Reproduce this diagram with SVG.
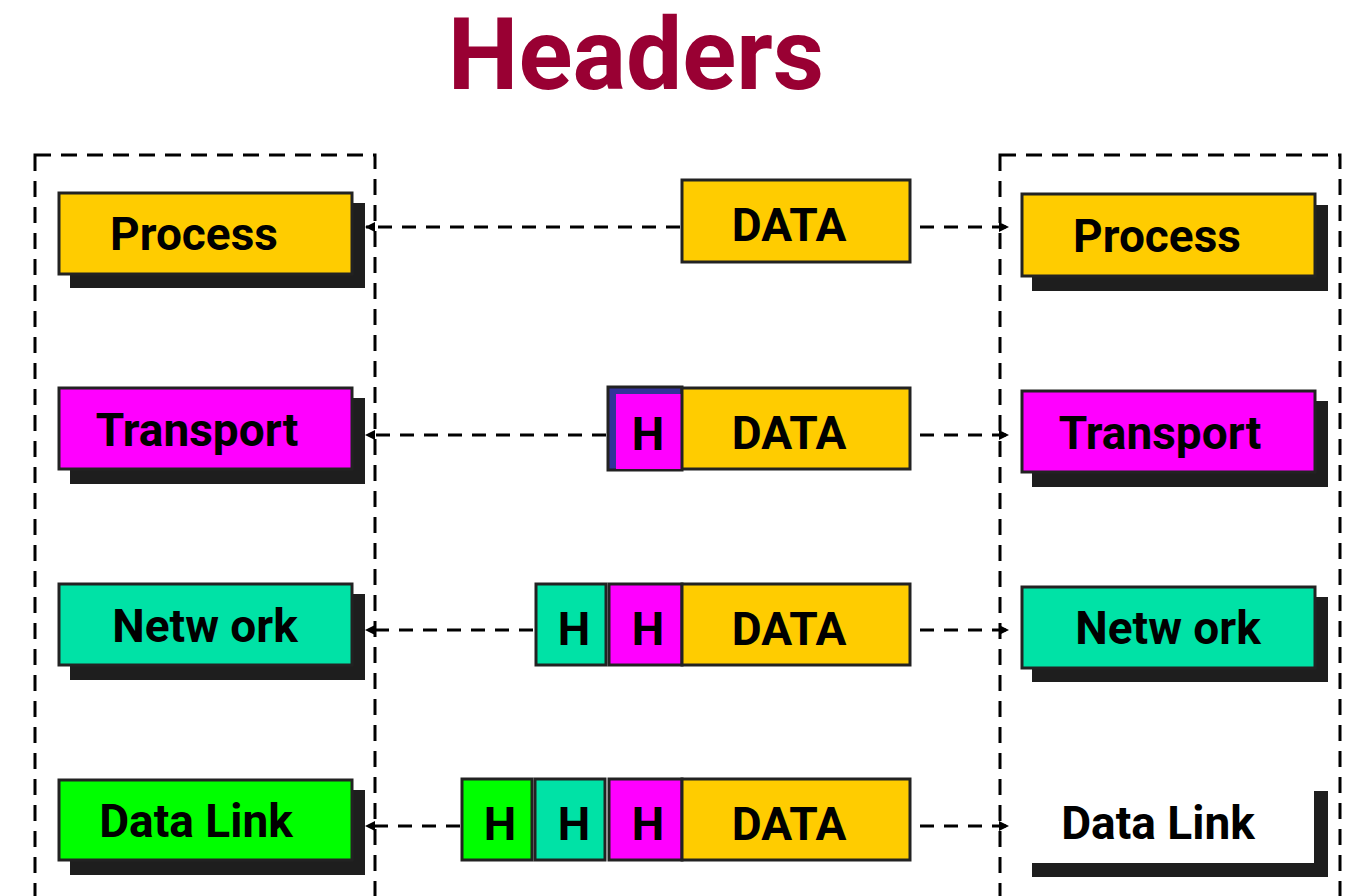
<svg xmlns="http://www.w3.org/2000/svg" width="1349" height="896" viewBox="0 0 1349 896">
<style>
.t{font-family:Roboto,"Liberation Sans",sans-serif;font-weight:bold;font-size:46px;fill:#000;text-anchor:middle}
.sh{fill:#1e1e1e}
.bx{stroke:#222;stroke-width:3}
.frame{fill:none;stroke:#000;stroke-width:3;stroke-dasharray:16 10}
.con{fill:none;stroke:#000;stroke-width:3;stroke-dasharray:14 10}
.y{fill:#FFCC00}.m{fill:#FF00FF}.c{fill:#00E2A6}.g{fill:#00FF00}
</style>
<defs>
<marker id="ah" viewBox="0 0 10 10" refX="9" refY="5" markerWidth="10" markerHeight="10" markerUnits="userSpaceOnUse" orient="auto">
<path d="M0,0 L10,5 L0,10 z" fill="#000"/>
</marker>
</defs>
<rect width="1349" height="896" fill="#fff"/>
<text x="636" y="89" style="font-family:Roboto,'Liberation Sans',sans-serif;font-weight:bold;font-size:100px;fill:#990033;text-anchor:middle">Headers</text>

<rect class="frame" x="35" y="155" width="340" height="760"/>
<rect class="frame" x="1000" y="155" width="340" height="760"/>

<g id="left-process">
<rect class="sh" x="70" y="203" width="295" height="85"/>
<rect class="bx y" x="59" y="193" width="293" height="81"/>
<text class="t" x="194" y="250">Process</text>
</g>
<g id="left-transport">
<rect class="sh" x="70" y="398" width="295" height="86"/>
<rect class="bx m" x="59" y="388" width="293" height="81"/>
<text class="t" x="197" y="446">Transport</text>
</g>
<g id="left-network">
<rect class="sh" x="70" y="594" width="295" height="86"/>
<rect class="bx c" x="59" y="584" width="293" height="81"/>
<text class="t" x="205" y="642">Netw ork</text>
</g>
<g id="left-datalink">
<rect class="sh" x="70" y="790" width="295" height="85"/>
<rect class="bx g" x="59" y="780" width="293" height="80"/>
<text class="t" x="196" y="837">Data Link</text>
</g>

<g id="right-process">
<rect class="sh" x="1032" y="205" width="296" height="86"/>
<rect class="bx y" x="1022" y="194" width="293" height="82"/>
<text class="t" x="1157" y="252">Process</text>
</g>
<g id="right-transport">
<rect class="sh" x="1032" y="401" width="296" height="86"/>
<rect class="bx m" x="1022" y="391" width="293" height="81"/>
<text class="t" x="1160" y="449">Transport</text>
</g>
<g id="right-network">
<rect class="sh" x="1032" y="597" width="296" height="85"/>
<rect class="bx c" x="1022" y="587" width="293" height="81"/>
<text class="t" x="1168" y="644">Netw ork</text>
</g>
<g id="right-datalink">
<rect class="sh" x="1032" y="791" width="296" height="86"/>
<rect fill="#fff" x="1020" y="778" width="294" height="85"/>
<text class="t" x="1158" y="839">Data Link</text>
</g>

<g id="packet-1">
<rect class="bx y" x="682" y="180" width="228" height="82"/>
<text class="t" x="789" y="241">DATA</text>
</g>
<g id="packet-2">
<rect x="608" y="387" width="74" height="83" fill="#333399" stroke="#222" stroke-width="3"/>
<rect class="m" x="616" y="394" width="66" height="75"/>
<text class="t" x="648" y="450">H</text>
<rect class="bx y" x="682" y="388" width="228" height="81"/>
<text class="t" x="789" y="449">DATA</text>
</g>
<g id="packet-3">
<rect class="bx c" x="536" y="584" width="70" height="81"/>
<text class="t" x="574" y="645">H</text>
<rect class="bx m" x="609" y="584" width="73" height="81"/>
<text class="t" x="648" y="645">H</text>
<rect class="bx y" x="682" y="584" width="228" height="81"/>
<text class="t" x="789" y="645">DATA</text>
</g>
<g id="packet-4">
<rect class="bx g" x="462" y="779" width="70" height="81"/>
<text class="t" x="500" y="840">H</text>
<rect class="bx c" x="535" y="779" width="70" height="81"/>
<text class="t" x="574" y="840">H</text>
<rect class="bx m" x="609" y="779" width="73" height="81"/>
<text class="t" x="648" y="840">H</text>
<rect class="bx y" x="682" y="779" width="228" height="81"/>
<text class="t" x="789" y="840">DATA</text>
</g>

<g id="connectors">
<line class="con" x1="680" y1="227" x2="366" y2="227" marker-end="url(#ah)"/>
<line class="con" x1="920" y1="227" x2="1008" y2="227" marker-end="url(#ah)"/>
<line class="con" x1="606" y1="435" x2="366" y2="435" marker-end="url(#ah)"/>
<line class="con" x1="920" y1="435" x2="1008" y2="435" marker-end="url(#ah)"/>
<line class="con" x1="533" y1="630" x2="366" y2="630" marker-end="url(#ah)"/>
<line class="con" x1="920" y1="630" x2="1008" y2="630" marker-end="url(#ah)"/>
<line class="con" x1="460" y1="826" x2="366" y2="826" marker-end="url(#ah)"/>
<line class="con" x1="920" y1="826" x2="1008" y2="826" marker-end="url(#ah)"/>
</g>
</svg>
